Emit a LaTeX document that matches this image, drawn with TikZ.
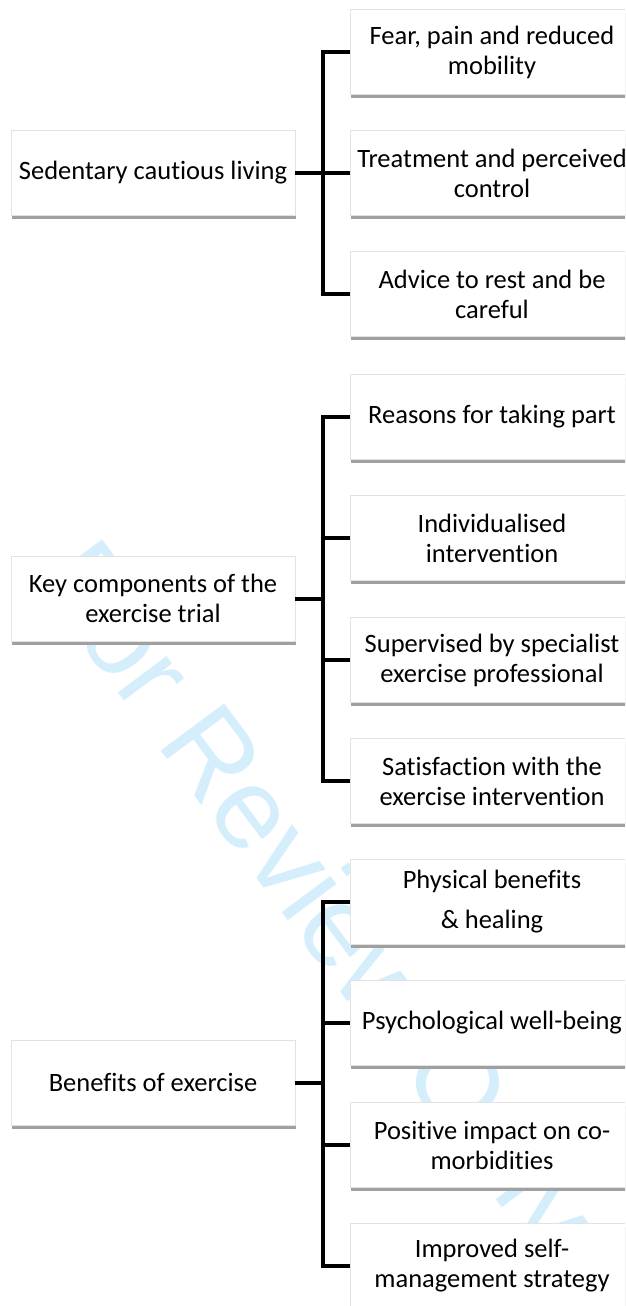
\documentclass[tikz,border=0pt]{standalone}
\usepackage{fontspec}
\setmainfont[Ligatures={NoCommon}]{Carlito}
\newfontfamily\wmfont{Liberation Sans}
\usetikzlibrary{shadows}
\definecolor{wmcol}{RGB}{213,238,251}
\definecolor{edgecol}{RGB}{226,226,226}
\definecolor{shadowcol}{RGB}{160,160,160}
\tikzset{
  box/.style={draw=edgecol, line width=0.6pt, fill=white,
    minimum width=284pt, minimum height=85pt, align=center, inner sep=0pt,
    font=\fontsize{26.5}{30}\selectfont,
    drop shadow={shadow xshift=1.2pt, shadow yshift=-3.5pt, fill=shadowcol, opacity=1}},
  link/.style={line width=4pt, line join=miter, draw=black},
  watermark/.style={text=wmcol, inner sep=0pt, anchor=base west,
    font=\wmfont\fontsize{115}{115}\selectfont}
}
\begin{document}
\begin{tikzpicture}[x=1pt,y=-1pt]
\useasboundingbox (0,0) rectangle (625,1306);
\clip (0,0) rectangle (625,1306);

% watermark
\node[watermark, rotate=-53.3] (wm) at (33,579) {For Review Only};

% section 1
\node[box] (L1) at (153,172.5) {Sedentary cautious living};
\node[box] (A1) at (492,52) {Fear, pain and reduced\\mobility};
\node[box] (A2) at (492,173) {Treatment and perceived\\control};
\node[box] (A3) at (492,294) {Advice to rest and be\\careful};

% section 2
\node[box] (L2) at (153,598.5) {Key components of the\\exercise trial};
\node[box] (B1) at (492,417) {Reasons for taking part};
\node[box] (B2) at (492,538) {Individualised\\intervention};
\node[box] (B3) at (492,660) {Supervised by specialist\\exercise professional};
\node[box] (B4) at (492,781) {Satisfaction with the\\exercise intervention};

% section 3
\node[box] (L3) at (153,1082.5) {Benefits of exercise};
\node[box, font=\fontsize{26.5}{40}\selectfont] (C1) at (492,902) {Physical benefits\\\& healing};
\node[box] (C2) at (492,1023) {Psychological well-being};
\node[box] (C3) at (492,1145) {Positive impact on co-\\morbidities};
\node[box] (C4) at (492,1266) {Improved self-\\management strategy};

% trunks
\coordinate (TA) at (323,0);
\coordinate (TB) at (323,0);
\coordinate (TC) at (323,0);

\draw[link] (A1.west) -- (A1.west -| TA) -- (A3.west -| TA) -- (A3.west);
\draw[link] (A2.west) -- (A2.west -| TA);
\draw[link] (L1.east) -- (L1.east -| TA);

\draw[link] (B1.west) -- (B1.west -| TB) -- (B4.west -| TB) -- (B4.west);
\draw[link] (B2.west) -- (B2.west -| TB);
\draw[link] (B3.west) -- (B3.west -| TB);
\draw[link] (L2.east) -- (L2.east -| TB);

\draw[link] (C1.west) -- (C1.west -| TC) -- (C4.west -| TC) -- (C4.west);
\draw[link] (C2.west) -- (C2.west -| TC);
\draw[link] (C3.west) -- (C3.west -| TC);
\draw[link] (L3.east) -- (L3.east -| TC);
\end{tikzpicture}
\end{document}
